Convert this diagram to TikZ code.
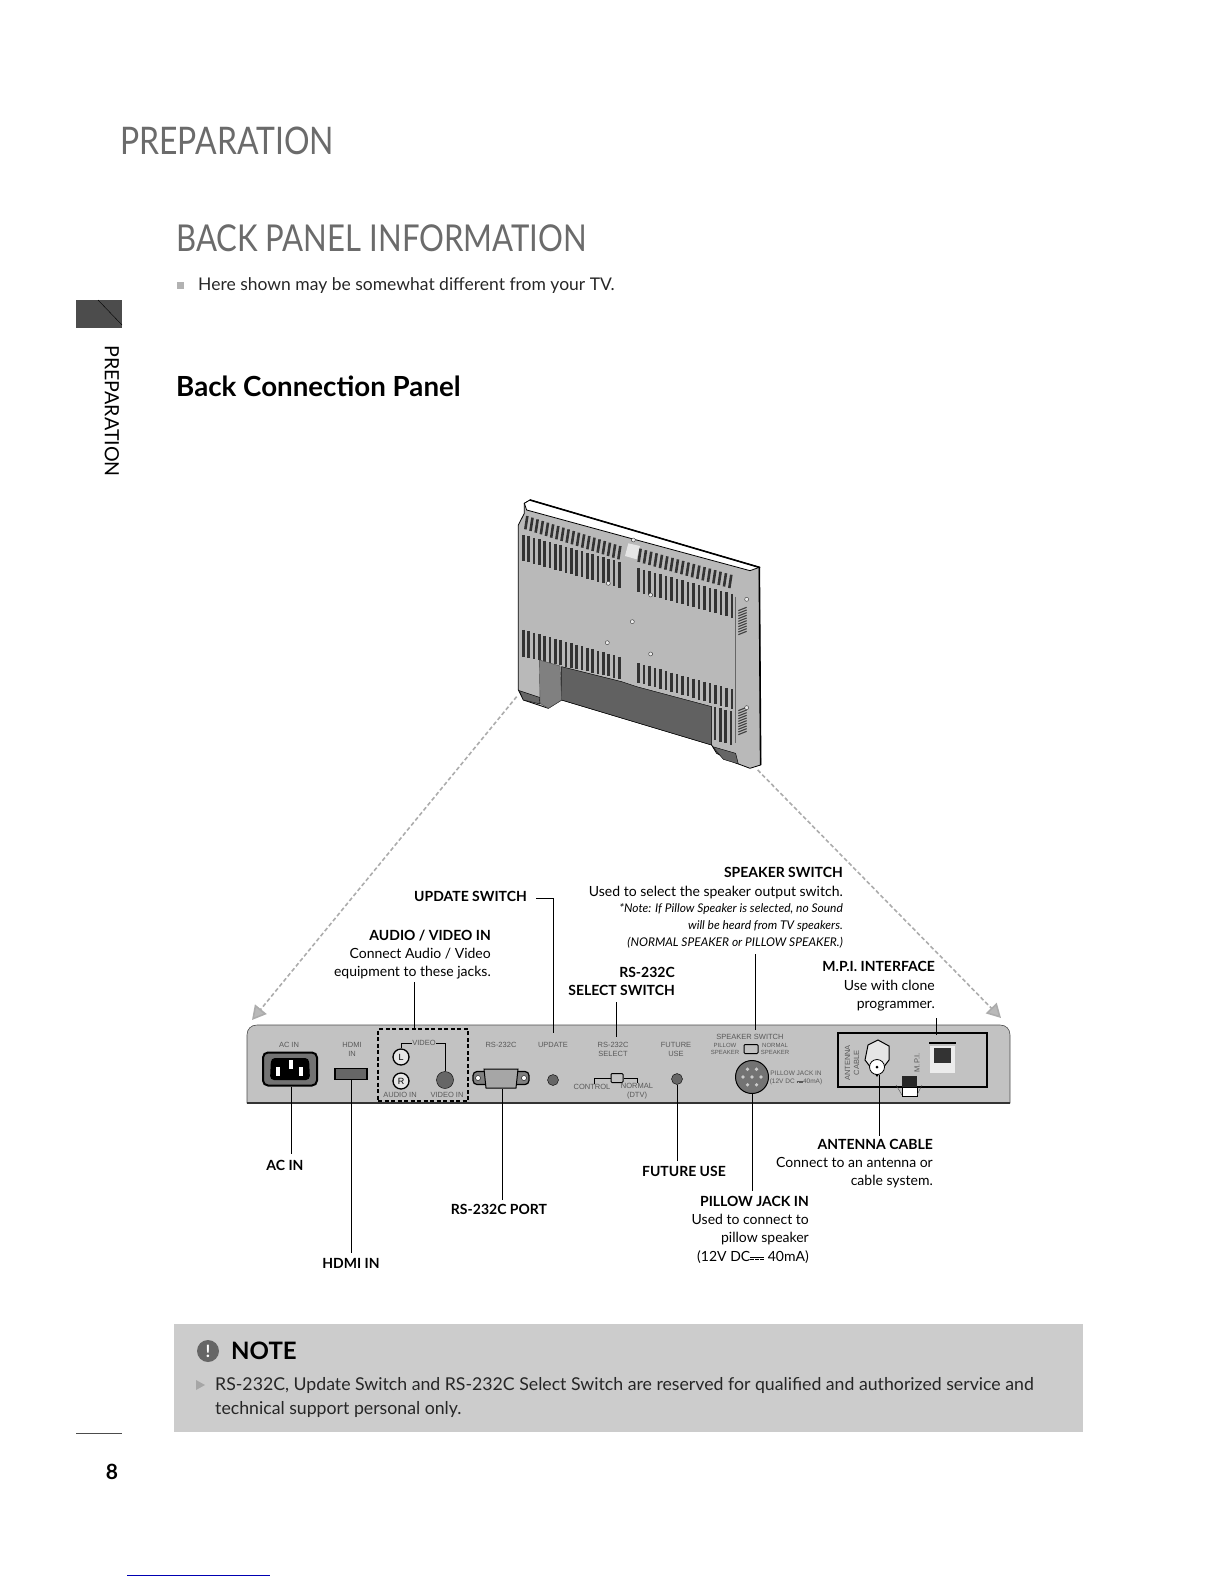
\documentclass[tikz,border=0pt]{standalone}
\usepackage{fontspec}
\setmainfont{Lato}
\newfontfamily\headfont[FakeStretch=0.84]{Lato}
\newfontfamily\panelfont{Liberation Sans}
\usetikzlibrary{arrows.meta}
\definecolor{panelgray}{gray}{0.76}
\definecolor{notegray}{gray}{0.80}
\definecolor{headgray}{gray}{0.42}
\newcommand{\smallnote}{\fontsize{12}{16.5}\selectfont\itshape}
\newcommand{\dcsign}{\leavevmode\raisebox{0.42ex}{\rlap{\rule{1em}{0.07em}}}\raisebox{0.2ex}{\rule{0.27em}{0.07em}\kern0.095em\rule{0.27em}{0.07em}\kern0.095em\rule{0.27em}{0.07em}}}
\tikzset{
	leader/.style={draw=black, line width=1pt},
	footleader/.style={leader, shorten >=5pt},
	sightline/.style={draw=gray!65, line width=1.6pt, dash pattern=on 4pt off 2.5pt, -{Triangle[length=14pt,width=15pt,fill=gray!55]}},
	callout/.style={inner sep=0pt, align=right, anchor=north east, font=\fontsize{14}{18.2}\selectfont},
	boldcallout/.style={callout, font=\bfseries\fontsize{14}{18}\selectfont},
	heading/.style={inner sep=0pt, anchor=west, text=headgray},
	tiny/.style={inner sep=0pt, align=center, text=black!65, font=\panelfont\fontsize{7.5}{9}\selectfont},
	tinier/.style={tiny, font=\panelfont\fontsize{6}{7}\selectfont},
	vent/.style={draw=black!80, line width=2.6pt},
	sidevent/.style={draw=black!75, line width=1.1pt},
	jack/.style={circle, draw=black, fill=black!60, inner sep=0pt, minimum size=#1},
	letterjack/.style={circle, draw=black, line width=1.3pt, fill=panelgray!40, inner sep=0pt, minimum size=16pt, font=\panelfont\fontsize{9}{9}\selectfont},
	smallswitch/.style={draw=black, line width=1pt, rounded corners=1pt, fill=panelgray, inner sep=0pt, minimum width=#1, minimum height=9pt},
}
\begin{document}
\begin{tikzpicture}[x=1pt, y=-1pt]
	\useasboundingbox (0, 0) rectangle (1224, 1584);
	\node[heading, font=\headfont\fontsize{38}{38}\selectfont] (pagetitle) at (120, 141) {PREPARATION};
	\node[heading, font=\headfont\fontsize{37}{37}\selectfont] (backtitle) at (176, 238) {BACK PANEL INFORMATION};
	\fill[gray!60] (177, 282) rectangle (184, 289);
	\node[heading, text=black!85, font=\fontsize{17.5}{18}\selectfont] (hereshown) at (198, 286) {Here shown may be somewhat different from your TV.};
	\node[heading, text=black, font=\bfseries\fontsize{27.7}{28}\selectfont] (backpanel) at (176, 386.5) {Back Connection Panel};
	\fill[black!70] (76, 300) rectangle (122, 328);
	\draw[black, thin] (98, 300) -- (122, 325);
	\node[inner sep=0pt, rotate=-90, font=\fontsize{19.6}{20}\selectfont] (sidetitle) at (112, 411) {PREPARATION};
	\draw[black!70] (76, 1433) -- (122, 1433);
	\node[inner sep=0pt, font=\bfseries\fontsize{21}{21}\selectfont] (pagenumber) at (112, 1472) {8};
	\draw[blue!70!black] (127, 1575) -- (270, 1575);

	\begin{scope}[shift={(490, 480)}, x=0.3333pt, y=-0.3333pt]
		\filldraw[fill=gray!55, draw=black, line width=0.8pt] (85, 135) -- (103, 100) -- (103, 70) -- (120, 60) -- (808, 262) -- (812, 855) -- (780, 865) -- (740, 850) -- (680, 820) -- (665, 795) -- (215, 660) -- (175, 685) -- (100, 660) -- (85, 630) -- cycle;
		\filldraw[fill=white, draw=black, line width=0.8pt] (103, 70) -- (120, 60) -- (808, 262) -- (780, 272) -- (440, 180) -- (110, 90) -- cycle;
		\draw[black, line width=1.6pt] (120, 60) -- (808, 262) -- (812, 855);
		\draw[black!60] (737, 350) -- (737, 790);
		\fill[gray!20] (415, 190) -- (450, 198) -- (440, 238) -- (405, 228) -- cycle;
		\foreach \i in {0, 1, ..., 18}{
			\draw[vent] ({100 + 16 * \i}, {165 + 4.5 * \i}) -- ++(0, 78);
			\draw[vent] ({112 + 15.5 * \i}, {108 + 5 * \i}) -- ++(-6, 40);
			\draw[vent] ({100 + 16 * \i}, {450 + 4.5 * \i}) -- ++(0, {80 - 0.8 * \i});
		}
		\foreach \i in {0, 1, ..., 17}{
			\draw[vent] ({445 + 16.5 * \i}, {265 + 4.5 * \i}) -- ++(0, 72);
			\draw[vent] ({452 + 16 * \i}, {206 + 4.6 * \i}) -- ++(-6, 40);
			\draw[vent] ({445 + 16.5 * \i}, {550 + 4.6 * \i}) -- ++(0, 58);
		}
		\foreach \i in {0, 1, 2, 3}{
			\draw[vent] ({675 + 16 * \i}, {680 + 4.6 * \i}) -- ++(0, 100);
		}
		\foreach \i in {0, 1, ..., 9}{
			\draw[sidevent] (745, {392 + 8 * \i}) -- (770, {382 + 8 * \i});
			\draw[sidevent] (745, {692 + 8 * \i}) -- (770, {682 + 8 * \i});
		}
		\filldraw[fill=black!62, draw=black] (215, 560) -- (395, 605) -- (440, 620) -- (665, 680) -- (665, 795) -- (215, 660) -- cycle;
		\filldraw[fill=black!50, draw=black!70] (148, 540) -- (210, 558) -- (215, 660) -- (175, 685) -- (150, 670) -- cycle;
		\filldraw[fill=black!60, draw=black] (88, 632) -- (148, 652) -- (150, 672) -- (100, 660) -- cycle;
		\filldraw[fill=black!60, draw=black] (668, 800) -- (737, 820) -- (745, 852) -- (700, 838) -- cycle;
		\foreach \px/\py in {355/310, 482/345, 427/425, 352/488, 482/522, 770/358, 770/683, 430/180}{
			\filldraw[fill=gray!15, draw=black!80] (\px, \py) circle (6);
		}
		\coordinate (tvleft) at (80, 650);
		\coordinate (tvright) at (803, 870);
	\end{scope}
	\coordinate (panelleft) at (252, 1020);
	\coordinate (panelright) at (1001, 1018);
	\draw[sightline] (tvleft) -- (panelleft);
	\draw[sightline] (tvright) -- (panelright);

	\filldraw[fill=panelgray, draw=black!70, line width=0.6pt] (247, 1103) -- (247, 1035) .. controls (247, 1029) and (251, 1025) .. (257, 1025) -- (1000, 1025) .. controls (1006, 1025) and (1010, 1029) .. (1010, 1035) -- (1010, 1103) -- cycle;
	\draw[black!80, line width=1.2pt] (247, 1103) -- (1010, 1103);

	\node[tiny] (acname) at (289, 1045) {AC IN};
	\node[draw=black, line width=2pt, rounded corners=5pt, fill=black!55, minimum width=54pt, minimum height=33pt, inner sep=0pt] (acsocket) at (290, 1069) {};
	\fill[black, rounded corners=4pt] (271, 1058) -- (309, 1058) -- (310, 1080) -- (270, 1080) -- cycle;
	\fill[white] (276, 1067) rectangle (280, 1076);
	\fill[white] (289, 1060) rectangle (293, 1069);
	\fill[white] (299, 1067) rectangle (303, 1076);
	\node[tiny] (hdminame) at (352, 1049) {HDMI\\IN};
	\node[draw=black, line width=1.5pt, fill=black!60, minimum width=32pt, minimum height=11pt, inner sep=0pt] (hdmiport) at (351, 1074) {};
	\node[draw=black, line width=1.7pt, dash pattern=on 4pt off 2.5pt, minimum width=90pt, minimum height=72pt, inner sep=0pt] (avbox) at (423, 1065) {};
	\node[tiny] (videoname) at (424, 1043) {VIDEO};
	\node[letterjack] (leftjack) at (401, 1057) {L};
	\node[letterjack] (rightjack) at (401, 1081) {R};
	\node[jack=17pt] (videojack) at (445, 1080) {};
	\draw[black, line width=0.8pt] (leftjack.north) -- (401, 1043) -- (videoname.west);
	\draw[black, line width=0.8pt] (videoname.east) -- (445, 1043) -- (videojack.north);
	\node[tiny] (audioinname) at (400, 1095) {AUDIO IN};
	\node[tiny] (videoinname) at (447, 1095) {VIDEO IN};
	\node[tiny] (rsname) at (501, 1045) {RS-232C};
	\node[draw=black, line width=1.2pt, rounded corners=4pt, fill=black!50, minimum width=56pt, minimum height=13pt, inner sep=0pt] (rsport) at (501, 1078) {};
	\filldraw[fill=black!35, draw=black, line width=1pt] (484, 1069) -- (518, 1069) -- (516, 1088) -- (486, 1088) -- cycle;
	\filldraw[fill=white, draw=black] (478, 1078) circle (2.5);
	\filldraw[fill=white, draw=black] (524, 1078) circle (2.5);
	\node[tiny] (updatename) at (553, 1045) {UPDATE};
	\node[jack=11pt] (updatejack) at (553, 1080) {};
	\node[tiny] (selectname) at (613, 1049) {RS-232C\\SELECT};
	\node[smallswitch=12pt] (selectswitch) at (617, 1078) {};
	\node[tiny] (controlname) at (592, 1087) {CONTROL};
	\node[tiny] (normalname) at (637, 1091) {NORMAL\\(DTV)};
	\draw[black, line width=0.8pt] (controlname.north) ++(2, 0) |- (selectswitch.west);
	\draw[black, line width=0.8pt] (selectswitch.east) -| (normalname.north);
	\node[tiny] (futurename) at (676, 1049) {FUTURE\\USE};
	\node[jack=11pt] (futurejack) at (677, 1079) {};
	\node[tiny] (speakername) at (750, 1037) {SPEAKER SWITCH};
	\node[tinier] (pillowname) at (725, 1049) {PILLOW\\SPEAKER};
	\node[smallswitch=14pt] (speakerswitch) at (751, 1049) {};
	\node[tinier] (normalspeaker) at (775, 1049) {NORMAL\\SPEAKER};
	\node[jack=33pt, fill=black!55, line width=1pt] (pillowjack) at (752, 1077) {};
	\foreach \a in {0, 60, ..., 300}{
		\fill[white!80!black] (pillowjack) ++(\a:9) circle (1.8);
	}
	\fill[white!80!black] (pillowjack) circle (1.8);
	\node[tiny, font=\panelfont\fontsize{6.5}{7.5}\selectfont] (pillowname2) at (796, 1078) {PILLOW JACK IN\\(12V DC \dcsign 40mA)};
	\node[draw=black, line width=2pt, minimum width=149pt, minimum height=54pt, inner sep=0pt] (mpibox) at (912.5, 1060) {};
	\node[tiny, rotate=90] (antennaname) at (852, 1063) {ANTENNA\\CABLE};
	\filldraw[fill=gray!20, draw=black, line width=1pt] (868, 1045) -- (878, 1040) -- (889, 1046) -- (889, 1060) -- (877, 1076) -- (865, 1060) -- cycle;
	\node[circle, draw=black, fill=white, line width=0.8pt, minimum size=15pt, inner sep=0pt] (antennajack) at (877, 1067) {};
	\fill[black] (antennajack) circle (1.5);
	\node[tiny, rotate=90] (mpiname) at (917, 1063) {M.P.I.};
	\draw[black, line width=1.3pt] (929, 1043) -- (956, 1043);
	\node[draw=none, fill=gray!15, minimum width=25pt, minimum height=27pt, inner sep=0pt] (mpiport) at (942, 1059) {};
	\fill[black!80] (934, 1048) -- (951, 1048) -- (951, 1063) -- (934, 1063) -- cycle;
	\fill[black!85] (902, 1076) rectangle (917, 1087);
	\filldraw[fill=white, draw=black] (902, 1087) rectangle (917, 1096);
	\draw[black!70] (902, 1095) -- (896, 1085);
	\draw[black!70] (917, 1095) -- (922, 1085);

	\node[boldcallout] (updatelabel) at (527, 891.5) {UPDATE SWITCH};
	\node[callout] (avlabel) at (491, 929.5) {\textbf{AUDIO / VIDEO IN}\\Connect Audio / Video\\equipment to these jacks.};
	\node[callout, font=\fontsize{14}{17}\selectfont] (speakerlabel) at (843, 867.5) {\textbf{SPEAKER SWITCH}\\[1.5pt]Used to select the speaker output switch.\\[-1pt]\smallnote *Note: If Pillow Speaker is selected, no Sound\\\smallnote will be heard from TV speakers.\\\smallnote (NORMAL SPEAKER or PILLOW SPEAKER.)};
	\node[boldcallout] (selectlabel) at (675, 967.5) {RS-232C\\SELECT SWITCH};
	\node[callout] (mpilabel) at (935, 961.5) {\textbf{M.P.I. INTERFACE}\\Use with clone\\programmer.};
	\node[boldcallout, anchor=center] (aclabel) at (285, 1165) {AC IN};
	\node[boldcallout, anchor=center] (hdmilabel) at (351, 1263) {HDMI IN};
	\node[boldcallout, anchor=center] (rslabel) at (499, 1209) {RS-232C PORT};
	\node[boldcallout, anchor=center] (futurelabel) at (684, 1171) {FUTURE USE};
	\node[callout] (pillowlabel) at (809, 1196) {\textbf{PILLOW JACK IN}\\Used to connect to\\pillow speaker\\(12V DC\dcsign\ 40mA)};
	\node[callout] (antennalabel) at (933, 1139) {\textbf{ANTENNA CABLE}\\Connect to an antenna or\\cable system.};

	\coordinate (updatetop) at (553, 898);
	\coordinate (updatefoot) at (553, 1033);
	\coordinate (avfoot) at (414, 1029);
	\coordinate (selectfoot) at (616, 1037);
	\coordinate (speakerfoot) at (755, 1030);
	\coordinate (mpifoot) at (936, 1035);
	\coordinate (acfoot) at (291, 1154);
	\coordinate (antennafoot) at (879, 1136);
	\draw[leader] (updatelabel.east |- updatetop) ++(9, 0) -- (updatetop) -- (updatefoot);
	\draw[leader] (avlabel.south -| avfoot) ++(0, 3) -- (avfoot);
	\draw[leader] (selectlabel.south -| selectfoot) ++(0, 6) -- (selectfoot);
	\draw[leader] (speakerlabel.south -| speakerfoot) ++(0, 6) -- (speakerfoot);
	\draw[leader] (mpilabel.south -| mpifoot) ++(0, 7) -- (mpifoot);
	\draw[leader] (acsocket.south -| acfoot) -- (acfoot);
	\draw[footleader] (hdmiport.south) -- (hdmiport.south |- hdmilabel.north);
	\draw[leader] (rsport.south -| rslabel.north) ++(3, 4) -- ++(0, 111);
	\draw[footleader] (futurejack.south) -- (futurejack.south |- futurelabel.north);
	\draw[footleader] (pillowjack.south) -- (pillowjack.south |- pillowlabel.north);
	\draw[leader] (antennajack.south) ++(2, 0) -- (antennafoot);

	\node[fill=notegray, minimum width=909pt, minimum height=108pt, inner sep=0pt] (notebox) at (628.5, 1378) {};
	\node[circle, fill=black!60, minimum size=22pt, inner sep=0pt, text=white, font=\bfseries\fontsize{17}{17}\selectfont] (noteicon) at (208, 1351) {!};
	\node[heading, text=black, font=\bfseries\fontsize{24}{25}\selectfont] (notetitle) at (231, 1351) {NOTE};
	\fill[gray!70] (196, 1380) -- (205, 1385) -- (196, 1390) -- cycle;
	\node[inner sep=0pt, anchor=north west, align=left, text=black!85, font=\fontsize{17.7}{24.5}\selectfont] (notetext) at (215, 1377) {RS-232C, Update Switch and RS-232C Select Switch are reserved for qualified and authorized service and\\technical support personal only.};
\end{tikzpicture}
\end{document}
